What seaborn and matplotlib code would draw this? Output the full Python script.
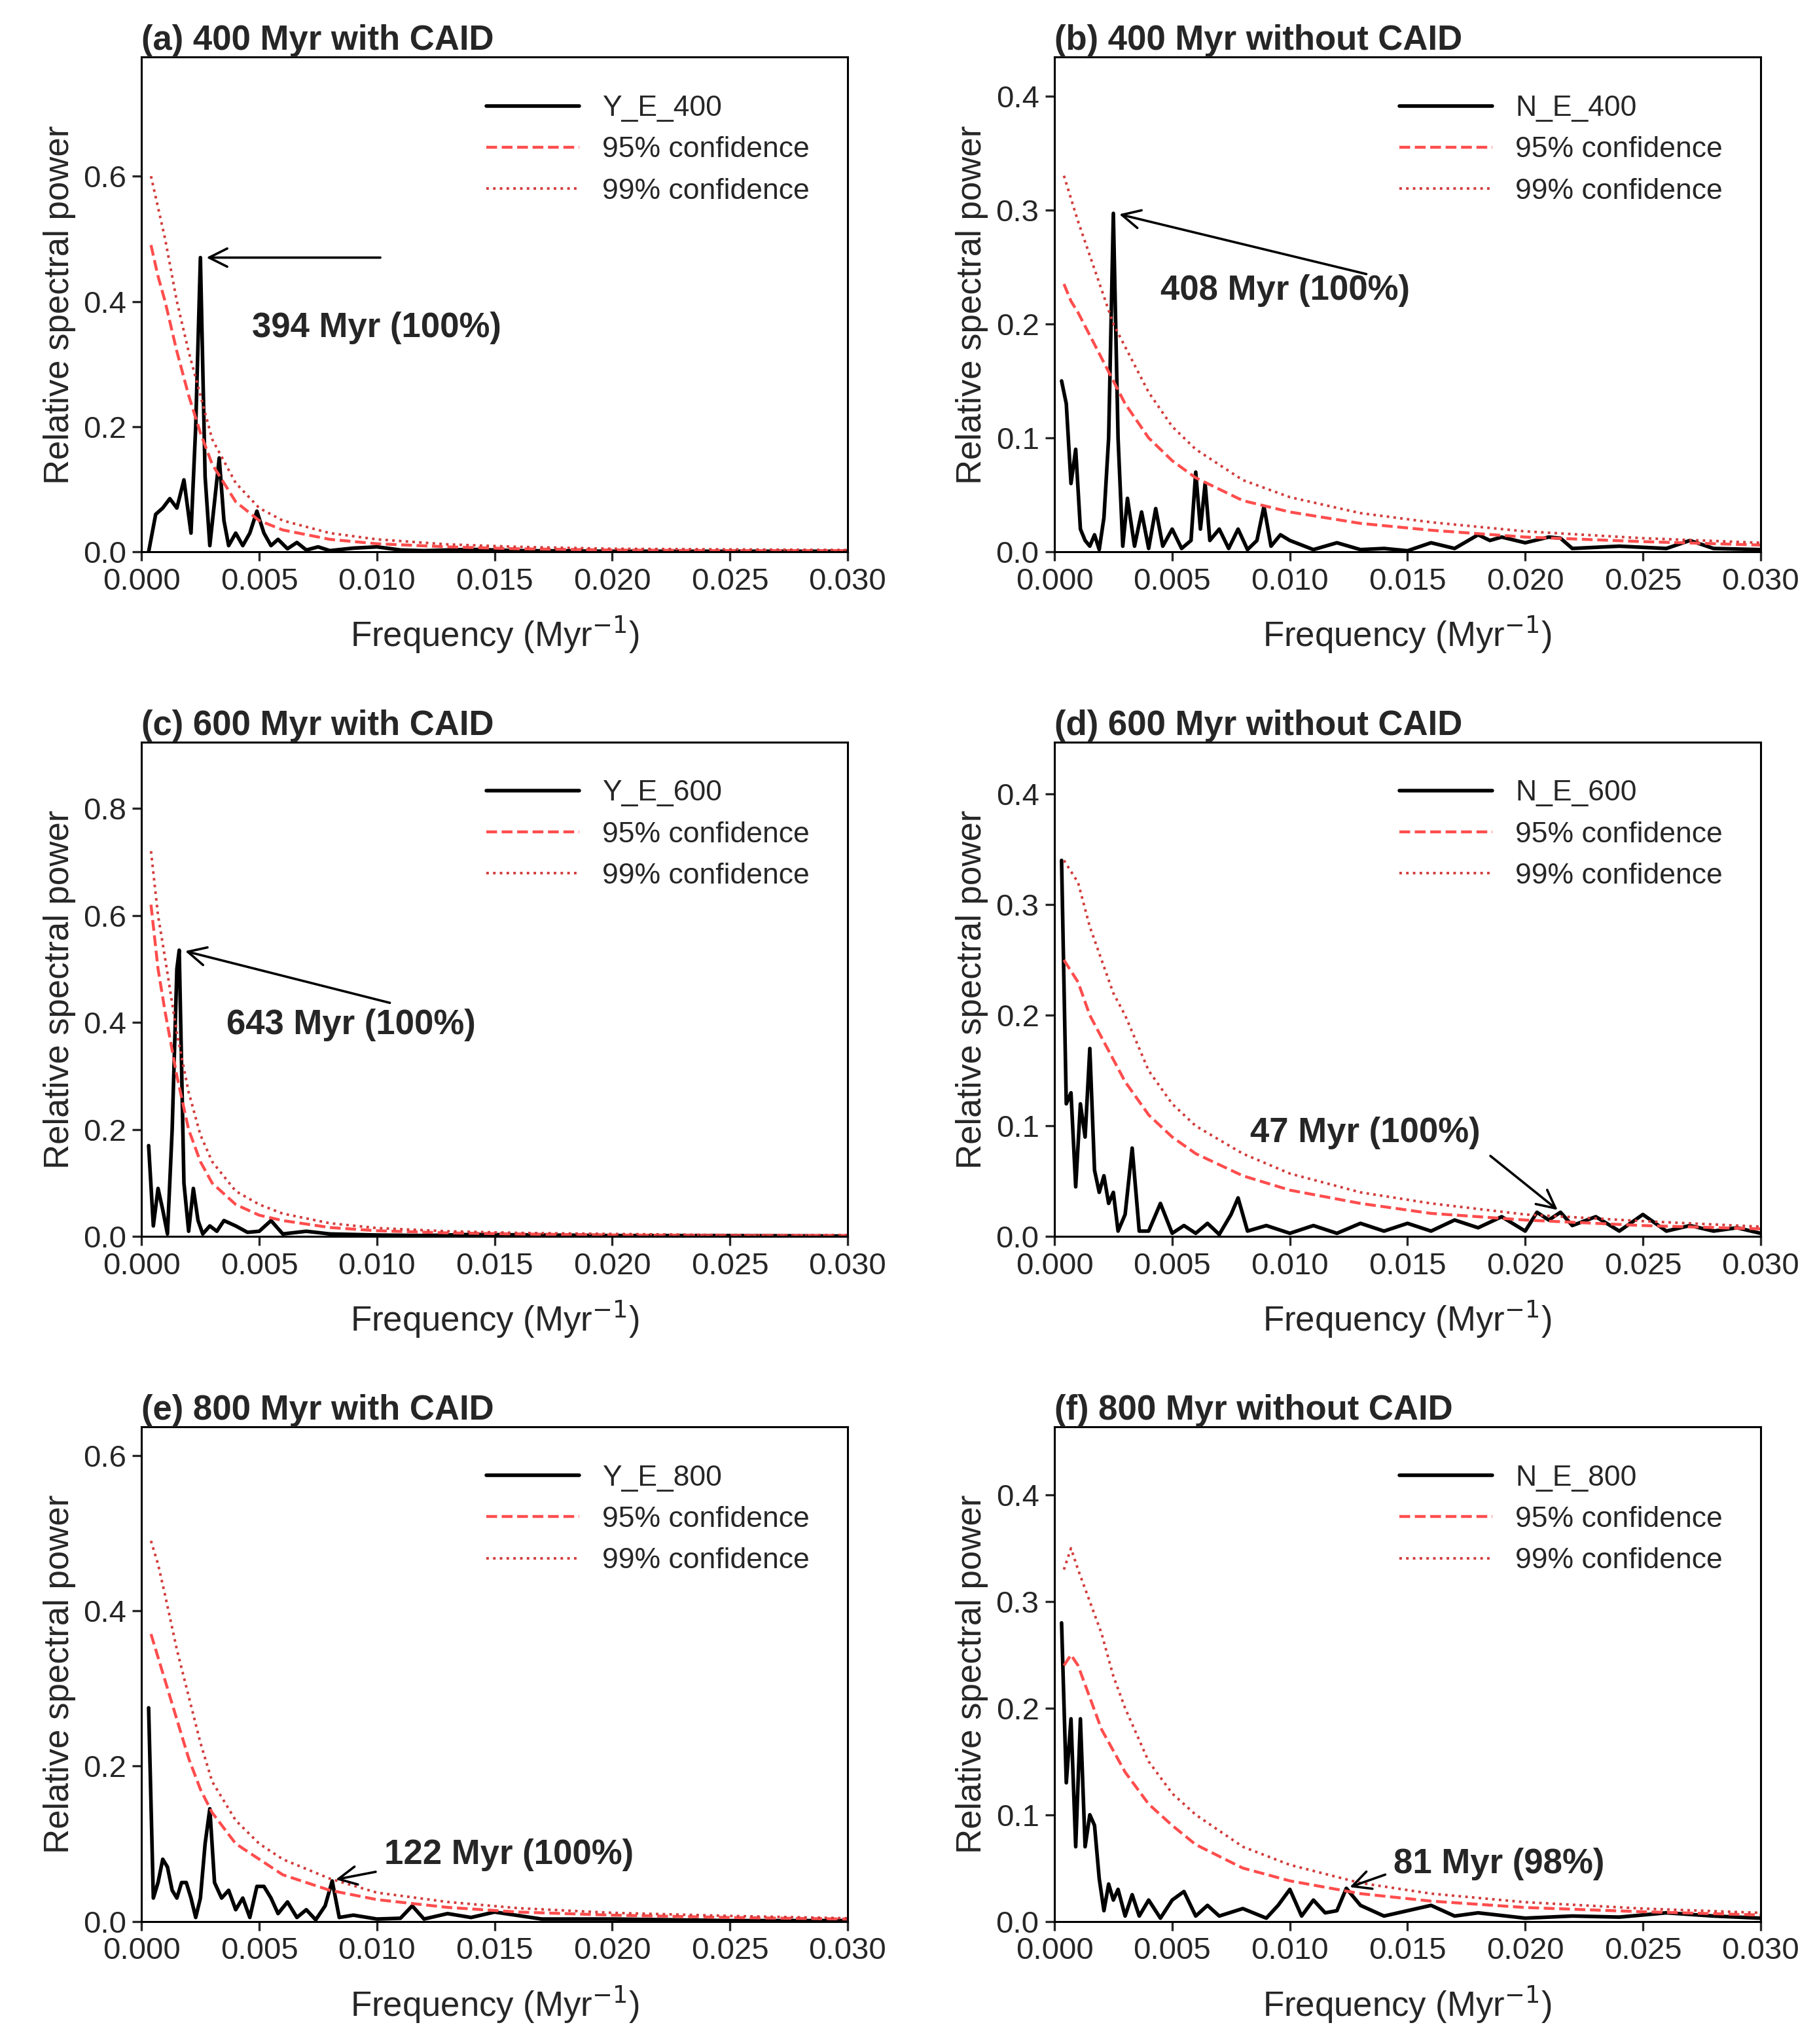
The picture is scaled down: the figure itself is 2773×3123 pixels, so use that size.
import matplotlib
matplotlib.use("Agg")
import matplotlib.pyplot as plt
import seaborn as sns
import pandas as pd

sns.set_theme(style="ticks")
plt.rcParams['font.family'] = ['Arial', 'Liberation Sans', 'DejaVu Sans']

CONF_F = [0.0004, 0.0007, 0.001, 0.0015, 0.002, 0.0025, 0.003, 0.004, 0.005, 0.006,
          0.008, 0.01, 0.013, 0.016, 0.02, 0.025, 0.03]

# panel a
a_f = [.0003,.0006,.0009,.0012,.0015,.0018,.0021,.0023,.0025,.0027,.0029,.0031,.0033,.0035,.0037,.0040,.0043,.0046,.0049,.0052,.0055,.0058,.0062,.0066,.0070,.0075,.0080,.0090,.0100,.0110,.0120,.0140,.0160,.0200,.0250,.0300]
a_p = [0,.06,.07,.085,.07,.115,.03,.20,.47,.12,.01,.08,.15,.05,.01,.03,.01,.03,.065,.03,.01,.02,.005,.015,.003,.008,.002,.006,.008,.003,.002,.004,.002,.001,.001,.001]
a_95 = [0.49,0.44,0.40,0.32,0.25,0.19,0.14,0.08,0.05,0.035,0.02,0.013,0.008,0.005,0.003,0.002,0.002]
a_99 = [0.60,0.55,0.50,0.40,0.32,0.25,0.18,0.11,0.07,0.05,0.03,0.02,0.012,0.008,0.005,0.004,0.003]

# panel b
b_f = [.0003,.0005,.0007,.0009,.0011,.0013,.0015,.0017,.0019,.0021,.0023,.0025,.0027,.0029,.0031,.0034,.0037,.0040,.0043,.0046,.0050,.0054,.0058,.0060,.0062,.0064,.0066,.0070,.0074,.0078,.0082,.0086,.0089,.0092,.0096,.0100,.0110,.0120,.0130,.0140,.0150,.0160,.0170,.0180,.0185,.0190,.0200,.0210,.0215,.0220,.0240,.0260,.0270,.0280,.0300]
b_p = [.15,.13,.06,.09,.02,.01,.005,.015,.002,.03,.1,.297,.1,.005,.047,.005,.035,.003,.038,.005,.02,.003,.01,.07,.02,.06,.01,.02,.003,.02,.002,.01,.04,.005,.015,.01,.002,.008,.002,.003,.001,.008,.003,.015,.01,.013,.008,.013,.012,.003,.005,.003,.01,.003,.002]
b_95 = [0.235,0.22,0.21,0.19,0.17,0.15,0.13,0.10,0.08,0.065,0.045,0.035,0.025,0.019,0.013,0.009,0.006]
b_99 = [0.33,0.31,0.29,0.26,0.23,0.20,0.18,0.14,0.11,0.09,0.063,0.048,0.034,0.026,0.018,0.012,0.008]

# panel c
c_f = [.0003,.0005,.0007,.0009,.0011,.0013,.0015,.0016,.0018,.0020,.0022,.0024,.0026,.0029,.0032,.0035,.0040,.0045,.0050,.0055,.0060,.0070,.0080,.0100,.0120,.0140,.0200,.0250,.0300]
c_p = [.17,.02,.09,.05,.005,.2,.5,.535,.1,.01,.09,.03,.005,.02,.01,.03,.02,.008,.01,.03,.005,.01,.005,.003,.002,.004,.002,.002,.001]
c_95 = [0.62,0.50,0.42,0.30,0.20,0.14,0.10,0.06,0.04,0.03,0.017,0.011,0.007,0.005,0.003,0.002,0.002]
c_99 = [0.72,0.60,0.52,0.38,0.27,0.19,0.14,0.085,0.06,0.043,0.025,0.016,0.01,0.007,0.005,0.003,0.003]

# panel d
d_f = [.0003,.0005,.0007,.0009,.0011,.0013,.0015,.0017,.0019,.0021,.0023,.0025,.0027,.0030,.0033,.0036,.0040,.0045,.0050,.0055,.0060,.0065,.0070,.0075,.0078,.0082,.0090,.0100,.0110,.0120,.0130,.0140,.0150,.0160,.0170,.0180,.0190,.0200,.0205,.0210,.0215,.0220,.0230,.0240,.0250,.0260,.0270,.0280,.0290,.0300]
d_p = [.34,.12,.13,.045,.12,.09,.17,.06,.04,.055,.03,.04,.005,.02,.08,.005,.005,.03,.003,.01,.003,.012,.002,.02,.035,.005,.01,.003,.01,.003,.012,.005,.012,.005,.015,.008,.018,.005,.022,.015,.022,.01,.018,.005,.02,.005,.01,.005,.008,.003]
d_95 = [0.25,0.24,0.23,0.20,0.18,0.16,0.14,0.11,0.09,0.075,0.055,0.042,0.03,0.021,0.015,0.01,0.007]
d_99 = [0.34,0.33,0.32,0.28,0.25,0.22,0.20,0.15,0.12,0.10,0.075,0.057,0.04,0.03,0.02,0.014,0.009]

# panel e
e_f = [.0003,.0005,.0007,.0009,.0011,.0013,.0015,.0017,.0019,.0021,.0023,.0025,.0027,.0029,.0031,.0034,.0037,.0040,.0043,.0046,.0049,.0052,.0055,.0058,.0062,.0066,.0070,.0074,.0078,.0081,.0084,.0090,.0100,.0110,.0115,.0120,.0130,.0140,.0150,.0170,.0200,.0250,.0300]
e_p = [.275,.03,.05,.08,.07,.04,.03,.05,.05,.03,.005,.03,.1,.145,.05,.03,.04,.015,.03,.005,.045,.045,.03,.01,.025,.005,.015,.002,.02,.052,.005,.008,.003,.004,.02,.003,.01,.005,.012,.003,.003,.001,.001]
e_95 = [0.37,0.34,0.31,0.26,0.21,0.17,0.14,0.10,0.08,0.06,0.04,0.028,0.018,0.012,0.008,0.005,0.003]
e_99 = [0.49,0.46,0.42,0.35,0.29,0.23,0.18,0.13,0.10,0.08,0.055,0.037,0.025,0.017,0.011,0.007,0.004]

# panel f
f_f = [.0003,.0005,.0007,.0009,.0011,.0013,.0015,.0017,.0019,.0021,.0023,.0025,.0027,.0030,.0033,.0036,.0040,.0045,.0050,.0055,.0060,.0065,.0070,.0080,.0090,.0095,.0100,.0105,.0110,.0115,.0120,.0124,.0130,.0140,.0150,.0160,.0170,.0180,.0200,.0220,.0240,.0260,.0280,.0300]
f_p = [.28,.13,.19,.07,.19,.07,.1,.09,.04,.01,.035,.02,.03,.005,.025,.005,.02,.003,.02,.028,.005,.015,.005,.012,.003,.015,.03,.005,.02,.008,.01,.031,.015,.005,.01,.015,.005,.008,.003,.005,.004,.008,.005,.003]
f_95 = [0.24,0.25,0.24,0.21,0.18,0.16,0.14,0.11,0.09,0.072,0.05,0.038,0.026,0.019,0.013,0.009,0.006]
f_99 = [0.33,0.35,0.33,0.30,0.27,0.23,0.20,0.15,0.12,0.10,0.07,0.053,0.036,0.026,0.018,0.012,0.008]

panels = [
    ("(a) 400 Myr with CAID", "Y_E_400", a_f, a_p, a_95, a_99, 0.79, [0, .2, .4, .6],
     "394 Myr (100%)", (0.0026, 0.47), (0.0103, 0.47), (0.0047, 0.358)),
    ("(b) 400 Myr without CAID", "N_E_400", b_f, b_p, b_95, b_99, 0.434, [0, .1, .2, .3, .4],
     "408 Myr (100%)", (0.0026, 0.297), (0.0134, 0.243), (0.0045, 0.229)),
    ("(c) 600 Myr with CAID", "Y_E_600", c_f, c_p, c_95, c_99, 0.924, [0, .2, .4, .6, .8],
     "643 Myr (100%)", (0.0017, 0.535), (0.0107, 0.435), (0.0036, 0.396)),
    ("(d) 600 Myr without CAID", "N_E_600", d_f, d_p, d_95, d_99, 0.447, [0, .1, .2, .3, .4],
     "47 Myr (100%)", (0.0215, 0.022), (0.0184, 0.075), (0.0083, 0.0935)),
    ("(e) 800 Myr with CAID", "Y_E_800", e_f, e_p, e_95, e_99, 0.637, [0, .2, .4, .6],
     "122 Myr (100%)", (0.0081, 0.053), (0.0101, 0.0647), (0.0103, 0.086)),
    ("(f) 800 Myr without CAID", "N_E_800", f_f, f_p, f_95, f_99, 0.464, [0, .1, .2, .3, .4],
     "81 Myr (98%)", (0.0124, 0.031), (0.0142, 0.045), (0.0144, 0.054)),
]

fig = plt.figure(figsize=(13.865, 15.615), dpi=200)
lefts = [0.078, 0.581]
bottoms = [0.730, 0.395, 0.060]
for i, (title, lab, fx, py, c95, c99, ytop, yt, ann, xy, tail, txt) in enumerate(panels):
    ax = fig.add_axes([lefts[i % 2], bottoms[i // 2], 0.389, 0.242])
    sns.lineplot(x=fx, y=py, ax=ax, color="black", lw=2, label=lab, sort=False)
    sns.lineplot(x=CONF_F, y=c95, ax=ax, color="#ff4d4d", lw=1.6, ls="--", label="95% confidence")
    sns.lineplot(x=CONF_F, y=c99, ax=ax, color="#d23c3c", lw=1.4, ls=":", label="99% confidence")
    ax.set_xlim(0, 0.03)
    ax.set_ylim(0, ytop)
    ax.set_xticks([0, .005, .01, .015, .02, .025, .03])
    ax.set_xticklabels([f"{v:.3f}" for v in [0, .005, .01, .015, .02, .025, .03]])
    ax.set_yticks(yt)
    ax.set_yticklabels([f"{v:.1f}" for v in yt])
    ax.tick_params(labelsize=17, width=1.2, length=5)
    for s in ax.spines.values():
        s.set_visible(True)
        s.set_linewidth(1.1)
        s.set_color("black")
    ax.set_xlabel("Frequency (Myr$^{-1}$)", fontsize=19, labelpad=10)
    ax.set_ylabel("Relative spectral power", fontsize=19)
    ax.set_title(title, fontsize=19, fontweight="bold", loc="left", pad=4)
    ax.legend(loc="upper right", frameon=False, fontsize=16, handlelength=3.2,
              borderaxespad=0.9)
    ax.annotate("", xy=xy, xytext=tail,
                arrowprops=dict(arrowstyle="->", color="black", lw=1.3, mutation_scale=25))
    ax.text(txt[0], txt[1], ann, fontsize=19, fontweight="bold", va="center", ha="left")

fig.savefig("out.png", dpi=200, facecolor="white")
